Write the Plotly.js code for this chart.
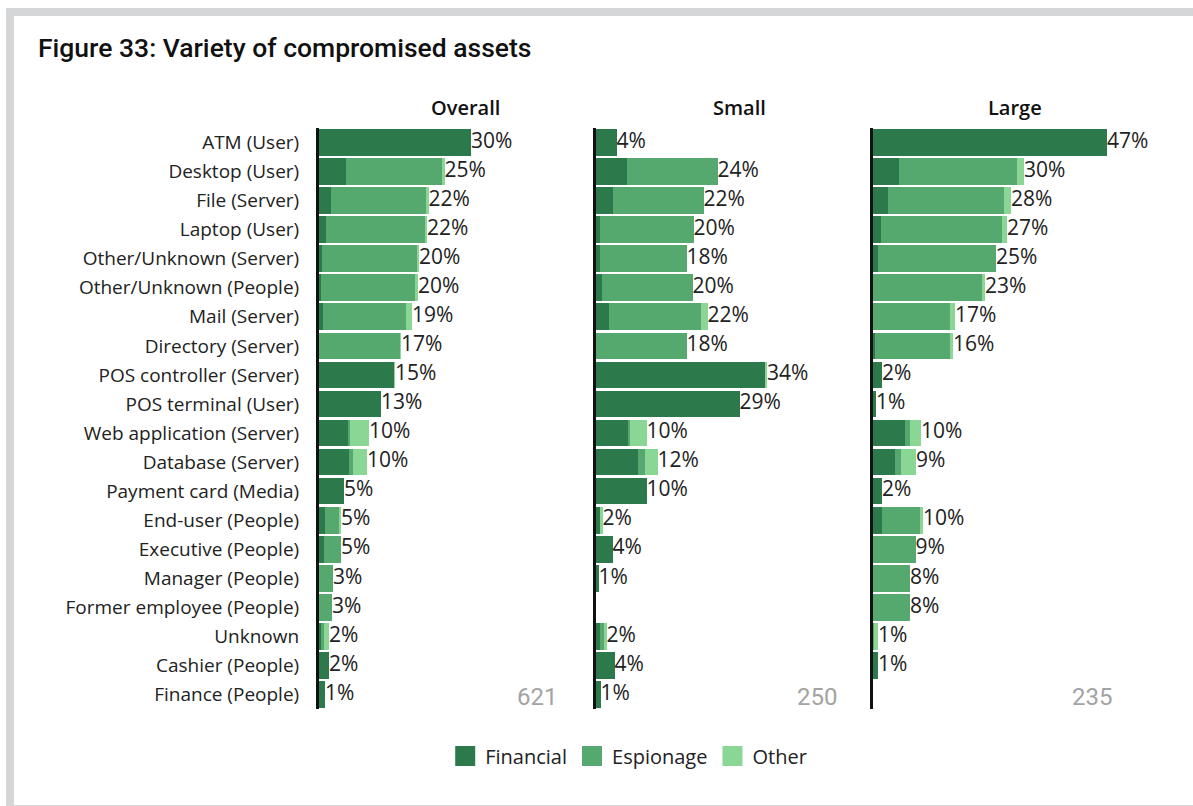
<!DOCTYPE html>
<html>
<head>
<meta charset="utf-8">
<script src="https://cdn.plot.ly/plotly-3.0.1.min.js"></script>
<style>
html,body{margin:0;padding:0;background:#fff;}
#chart{width:1193px;height:806px;}
</style>
</head>
<body>
<div id="chart"></div>
<script>
const categories = [
  "ATM (User)", "Desktop (User)", "File (Server)", "Laptop (User)",
  "Other/Unknown (Server)", "Other/Unknown (People)", "Mail (Server)",
  "Directory (Server)", "POS controller (Server)", "POS terminal (User)",
  "Web application (Server)", "Database (Server)", "Payment card (Media)",
  "End-user (People)", "Executive (People)", "Manager (People)",
  "Former employee (People)", "Unknown", "Cashier (People)", "Finance (People)"
];

// Overall (n = 621)
const overallFinancial = [30.5, 5.5, 2.5, 1.5, 0.7, 0.5, 0.9, 0, 15.1, 12.5, 5.9, 6.1, 5.1, 1.3, 1.1, 0, 0, 0.5, 2.1, 1.3];
const overallEspionage = [0, 19.2, 19.0, 19.7, 19.0, 18.7, 16.6, 16.3, 0, 0, 0.4, 0.8, 0, 2.8, 3.4, 2.9, 2.7, 0.6, 0, 0];
const overallOther     = [0, 0.5, 0.5, 0.5, 0.4, 0.7, 1.2, 0.2, 0.2, 0, 3.8, 2.8, 0, 0.4, 0, 0, 0, 1.0, 0, 0];
const overallLabels    = ["30%","25%","22%","22%","20%","20%","19%","17%","15%","13%","10%","10%","5%","5%","5%","3%","3%","2%","2%","1%"];

// Small (n = 250)
const smallFinancial = [4.2, 6.2, 3.4, 0.8, 0.8, 1.2, 2.6, 0, 33.8, 28.8, 6.4, 8.4, 10.2, 0.8, 3.4, 0.6, 0, 0.8, 3.8, 1.0];
const smallEspionage = [0, 18.2, 18.2, 18.8, 17.4, 18.2, 18.4, 18.2, 0, 0, 0.4, 1.4, 0, 0, 0, 0, 0, 0.8, 0, 0];
const smallOther     = [0, 0, 0, 0, 0, 0, 1.4, 0, 0.5, 0, 3.4, 2.6, 0, 0.6, 0, 0, 0, 0.6, 0, 0];
const smallLabels    = ["4%","24%","22%","20%","18%","20%","22%","18%","34%","29%","10%","12%","10%","2%","4%","1%","","2%","4%","1%"];

// Large (n = 235)
const largeFinancial = [46.9, 5.3, 3.1, 1.7, 1.1, 0, 0, 0.5, 1.9, 0.7, 6.5, 4.5, 1.9, 1.9, 0, 0, 0, 0, 1.1, 0];
const largeEspionage = [0, 23.6, 23.2, 24.2, 23.6, 21.9, 15.5, 15.0, 0, 0, 1.0, 1.2, 0, 7.6, 8.6, 7.5, 7.5, 0.3, 0, 0];
const largeOther     = [0, 1.4, 1.4, 1.0, 0, 0.6, 1.0, 0.6, 0, 0, 2.2, 3.0, 0, 0.6, 0, 0, 0, 0.8, 0, 0];
const largeLabels    = ["47%","30%","28%","27%","25%","23%","17%","16%","2%","1%","10%","9%","2%","10%","9%","8%","8%","1%","1%",""];

const panelTitles = ["Overall", "Small", "Large"];
const sampleSizes = ["621", "250", "235"];
const seriesNames = ["Financial", "Espionage", "Other"];
const colors = ["#2c7a4b", "#55a96e", "#89d695"];

const FONT = "'Open Sans', Roboto, 'DejaVu Sans', sans-serif";
const FONT2 = "Roboto, 'Open Sans', sans-serif";
const TEXT = "#222222";

const panels = [
  {fin: overallFinancial, esp: overallEspionage, oth: overallOther, lbl: overallLabels},
  {fin: smallFinancial, esp: smallEspionage, oth: smallOther, lbl: smallLabels},
  {fin: largeFinancial, esp: largeEspionage, oth: largeOther, lbl: largeLabels}
];

const W = 1193, H = 806;
const axisX = [318.5, 595.5, 872.5];
const pxPerUnit = 5.0;
const xMax = 50;
const plotTop = 128, plotBottom = 709;

const traces = [];
panels.forEach((p, i) => {
  const xa = i === 0 ? "x" : "x" + (i + 1);
  const ya = i === 0 ? "y" : "y" + (i + 1);
  [p.fin, p.esp, p.oth].forEach((vals, k) => {
    traces.push({
      type: "bar", orientation: "h",
      x: vals, y: categories,
      xaxis: xa, yaxis: ya,
      name: seriesNames[k],
      marker: {color: colors[k], line: {width: 0}},
      showlegend: false,
      legendgroup: seriesNames[k],
      hoverinfo: "skip"
    });
  });
  const totals = p.fin.map((v, j) => v + p.esp[j] + p.oth[j]);
  traces.push({
    type: "scatter", mode: "text",
    x: totals, y: categories,
    xaxis: xa, yaxis: ya,
    text: p.lbl,
    textposition: "middle right",
    textfont: {family: FONT, size: 21, color: TEXT},
    cliponaxis: false,
    showlegend: false,
    hoverinfo: "skip"
  });
});

// legend entries
seriesNames.forEach((n, k) => {
  traces.push({
    type: "scatter", mode: "markers",
    x: [null], y: [null],
    name: n, legendgroup: n,
    marker: {symbol: "square", size: 16, color: colors[k], line: {color: colors[k], width: 4}},
    showlegend: true, hoverinfo: "skip"
  });
});

const layout = {
  width: W, height: H,
  margin: {l: 0, r: 0, t: 0, b: 0},
  paper_bgcolor: "#ffffff",
  plot_bgcolor: "rgba(0,0,0,0)",
  barmode: "stack",
  bargap: 0.08,
  showlegend: true,
  legend: {
    orientation: "h",
    x: 0.527, xanchor: "center",
    y: 1 - 756 / H, yanchor: "middle",
    font: {family: FONT, size: 20, color: TEXT},
    itemwidth: 30,
    traceorder: "normal"
  },
  font: {family: FONT, color: TEXT},
  annotations: [],
  shapes: [
    // light grey frame
    {type: "rect", xref: "paper", yref: "paper", x0: 6 / W, x1: 1, y0: 1 - 16 / H, y1: 1 - 8 / H, fillcolor: "#d4d6d8", line: {width: 0}, layer: "below"},
    {type: "rect", xref: "paper", yref: "paper", x0: 6 / W, x1: 14 / W, y0: 0, y1: 1 - 8 / H, fillcolor: "#d4d6d8", line: {width: 0}, layer: "below"},
    {type: "rect", xref: "paper", yref: "paper", x0: 14 / W, x1: 1, y0: 0, y1: 1 / H, fillcolor: "#d8dadc", line: {width: 0}, layer: "below"}
  ]
};

layout.annotations.push({
  xref: "paper", yref: "paper",
  x: 36 / W, y: 1 - 47 / H, xanchor: "left", yanchor: "middle",
  text: "Figure 33: Variety of compromised assets",
  showarrow: false,
  font: {family: FONT2, size: 26.5, color: "#111111", weight: 500}
});

panels.forEach((p, i) => {
  const sfx = i === 0 ? "" : String(i + 1);
  const x0 = axisX[i] / W;
  const x1 = (axisX[i] + xMax * pxPerUnit) / W;
  layout["xaxis" + sfx] = {
    domain: [x0, x1],
    range: [0, xMax],
    visible: false,
    fixedrange: true,
    anchor: "y" + sfx
  };
  layout["yaxis" + sfx] = {
    domain: [1 - plotBottom / H, 1 - plotTop / H],
    type: "category",
    categoryorder: "array",
    categoryarray: categories,
    autorange: false,
    range: [categories.length - 0.5, -0.5],
    anchor: "x" + sfx,
    showline: true,
    linecolor: "#111111",
    linewidth: 2.5,
    showgrid: false,
    zeroline: false,
    showticklabels: i === 0,
    ticks: i === 0 ? "outside" : "",
    ticklen: 13,
    tickcolor: "rgba(0,0,0,0)",
    tickfont: {family: FONT, size: 19, color: TEXT},
    fixedrange: true
  };
  const centers = [465, 739, 1015];
  layout.annotations.push({
    xref: "paper", yref: "paper",
    x: centers[i] / W, y: 1 - 108 / H,
    xanchor: "center", yanchor: "middle",
    text: panelTitles[i],
    showarrow: false,
    font: {family: FONT, size: 20, color: "#111111", weight: 600}
  });
  const rightEdges = [559, 839, 1114];
  layout.annotations.push({
    xref: "paper", yref: "paper",
    x: rightEdges[i] / W, y: 1 - 697 / H,
    xanchor: "right", yanchor: "middle",
    text: sampleSizes[i],
    showarrow: false,
    font: {family: FONT2, size: 24, color: "#a3a3a3"}
  });
});

Plotly.newPlot("chart", traces, layout, {displayModeBar: false, staticPlot: true});
</script>
</body>
</html>
